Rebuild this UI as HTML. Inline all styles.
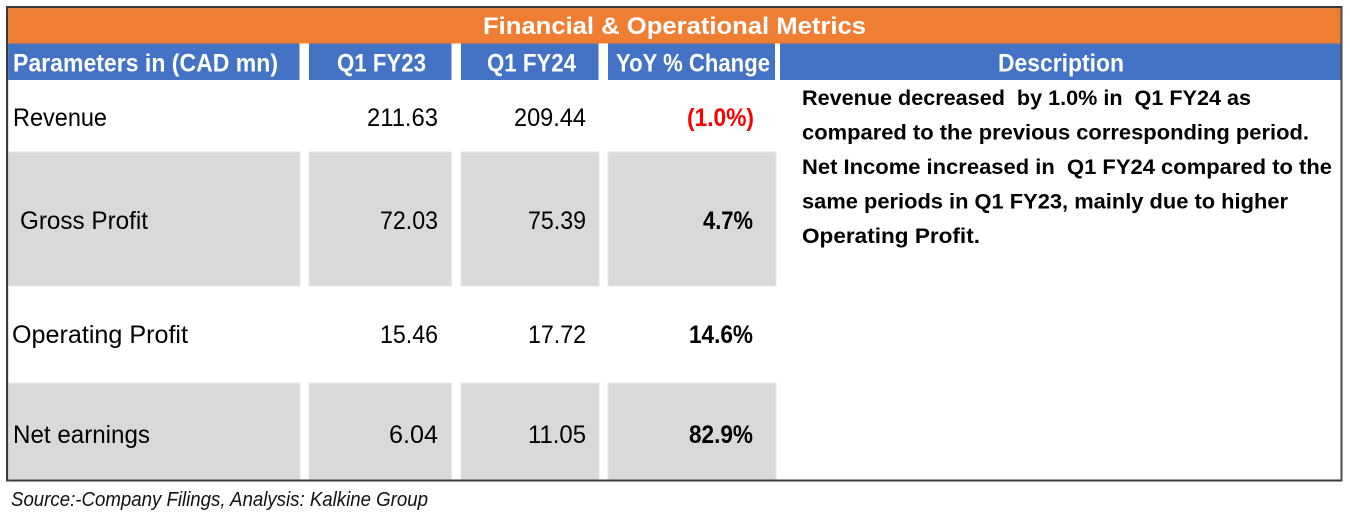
<!DOCTYPE html>
<html>
<head>
<meta charset="utf-8">
<style>
  html,body{margin:0;padding:0;background:#fff;}
  body{width:1350px;height:518px;overflow:hidden;}
  svg{display:block;}
  text{font-family:"Liberation Sans",Arial,sans-serif;}
  .pre{white-space:pre;}
</style>
</head>
<body>
<svg width="1350" height="518" viewBox="0 0 1350 518" xmlns="http://www.w3.org/2000/svg">
  <rect x="0" y="0" width="1350" height="518" fill="#ffffff"/>

  <!-- Title band -->
  <rect x="8" y="8" width="1333" height="35.5" fill="#EF7D32"/>
  <text x="674.5" y="34" text-anchor="middle" font-size="24" font-weight="bold" fill="#ffffff" textLength="383" lengthAdjust="spacingAndGlyphs">Financial &amp; Operational Metrics</text>

  <!-- Header band -->
  <rect x="8" y="43.5" width="291.5" height="36.5" fill="#4472C4"/>
  <rect x="309" y="43.5" width="142.5" height="36.5" fill="#4472C4"/>
  <rect x="461" y="43.5" width="137.5" height="36.5" fill="#4472C4"/>
  <rect x="608" y="43.5" width="167" height="36.5" fill="#4472C4"/>
  <rect x="780" y="43.5" width="561" height="36.5" fill="#4472C4"/>

  <text x="13" y="71.5" font-size="25" font-weight="bold" fill="#ffffff" textLength="265" lengthAdjust="spacingAndGlyphs">Parameters in (CAD mn)</text>
  <text x="337" y="71.5" font-size="25" font-weight="bold" fill="#ffffff" textLength="89" lengthAdjust="spacingAndGlyphs">Q1 FY23</text>
  <text x="487" y="71.5" font-size="25" font-weight="bold" fill="#ffffff" textLength="89" lengthAdjust="spacingAndGlyphs">Q1 FY24</text>
  <text x="616" y="71.5" font-size="25" font-weight="bold" fill="#ffffff" textLength="154" lengthAdjust="spacingAndGlyphs">YoY % Change</text>
  <text x="998" y="71.5" font-size="25" font-weight="bold" fill="#ffffff" textLength="126" lengthAdjust="spacingAndGlyphs">Description</text>

  <!-- Gray rows -->
  <g fill="#D9D9D9" stroke="#E6E6E6" stroke-width="1">
    <rect x="8" y="152" width="292" height="134"/>
    <rect x="309" y="152" width="142.5" height="134"/>
    <rect x="461" y="152" width="138" height="134"/>
    <rect x="608" y="152" width="168" height="134"/>

    <rect x="8" y="383" width="292" height="96.5"/>
    <rect x="309" y="383" width="142.5" height="96.5"/>
    <rect x="461" y="383" width="138" height="96.5"/>
    <rect x="608" y="383" width="168" height="96.5"/>
  </g>

  <!-- Row 1: Revenue -->
  <text x="13" y="126" font-size="25" fill="#000" textLength="94" lengthAdjust="spacingAndGlyphs">Revenue</text>
  <text x="438" y="126" font-size="25" fill="#000" text-anchor="end" textLength="71" lengthAdjust="spacingAndGlyphs">211.63</text>
  <text x="586" y="126" font-size="25" fill="#000" text-anchor="end" textLength="72" lengthAdjust="spacingAndGlyphs">209.44</text>
  <text x="754" y="126" font-size="25" font-weight="bold" fill="#FF0000" text-anchor="end" textLength="67" lengthAdjust="spacingAndGlyphs">(1.0%)</text>

  <!-- Row 2: Gross Profit -->
  <text x="20" y="229" font-size="25" fill="#000" textLength="128" lengthAdjust="spacingAndGlyphs">Gross Profit</text>
  <text x="438" y="229" font-size="25" fill="#000" text-anchor="end" textLength="58" lengthAdjust="spacingAndGlyphs">72.03</text>
  <text x="586" y="229" font-size="25" fill="#000" text-anchor="end" textLength="58" lengthAdjust="spacingAndGlyphs">75.39</text>
  <text x="753" y="229" font-size="25" font-weight="bold" fill="#000" text-anchor="end" textLength="50" lengthAdjust="spacingAndGlyphs">4.7%</text>

  <!-- Row 3: Operating Profit -->
  <text x="12" y="343" font-size="25" fill="#000" textLength="176" lengthAdjust="spacingAndGlyphs">Operating Profit</text>
  <text x="438" y="343" font-size="25" fill="#000" text-anchor="end" textLength="58" lengthAdjust="spacingAndGlyphs">15.46</text>
  <text x="586" y="343" font-size="25" fill="#000" text-anchor="end" textLength="58" lengthAdjust="spacingAndGlyphs">17.72</text>
  <text x="753" y="343" font-size="25" font-weight="bold" fill="#000" text-anchor="end" textLength="64" lengthAdjust="spacingAndGlyphs">14.6%</text>

  <!-- Row 4: Net earnings -->
  <text x="13" y="443" font-size="25" fill="#000" textLength="137" lengthAdjust="spacingAndGlyphs">Net earnings</text>
  <text x="438" y="443" font-size="25" fill="#000" text-anchor="end" textLength="49" lengthAdjust="spacingAndGlyphs">6.04</text>
  <text x="586" y="443" font-size="25" fill="#000" text-anchor="end" textLength="58" lengthAdjust="spacingAndGlyphs">11.05</text>
  <text x="753" y="443" font-size="25" font-weight="bold" fill="#000" text-anchor="end" textLength="64" lengthAdjust="spacingAndGlyphs">82.9%</text>

  <!-- Description -->
  <g font-size="21" font-weight="bold" fill="#000">
    <text class="pre" x="802" y="105" textLength="449" lengthAdjust="spacingAndGlyphs">Revenue decreased  by 1.0% in  Q1 FY24 as</text>
    <text x="802" y="139.5" textLength="507" lengthAdjust="spacingAndGlyphs">compared to the previous corresponding period.</text>
    <text class="pre" x="802" y="174" textLength="530" lengthAdjust="spacingAndGlyphs">Net Income increased in  Q1 FY24 compared to the</text>
    <text x="802" y="208.5" textLength="486" lengthAdjust="spacingAndGlyphs">same periods in Q1 FY23, mainly due to higher</text>
    <text x="802" y="243" textLength="178" lengthAdjust="spacingAndGlyphs">Operating Profit.</text>
  </g>

  <!-- Outer border -->
  <rect x="7" y="7" width="1334.5" height="473.5" fill="none" stroke="#3a3a3a" stroke-width="2"/>
  <rect x="8.5" y="8.5" width="1333" height="473" fill="none" stroke="#9a9a9a" stroke-width="0.6" opacity="0.5"/>

  <!-- Source -->
  <text x="11" y="506" font-size="20" font-style="italic" fill="#111" textLength="417" lengthAdjust="spacingAndGlyphs">Source:-Company Filings, Analysis: Kalkine Group</text>
</svg>
</body>
</html>
